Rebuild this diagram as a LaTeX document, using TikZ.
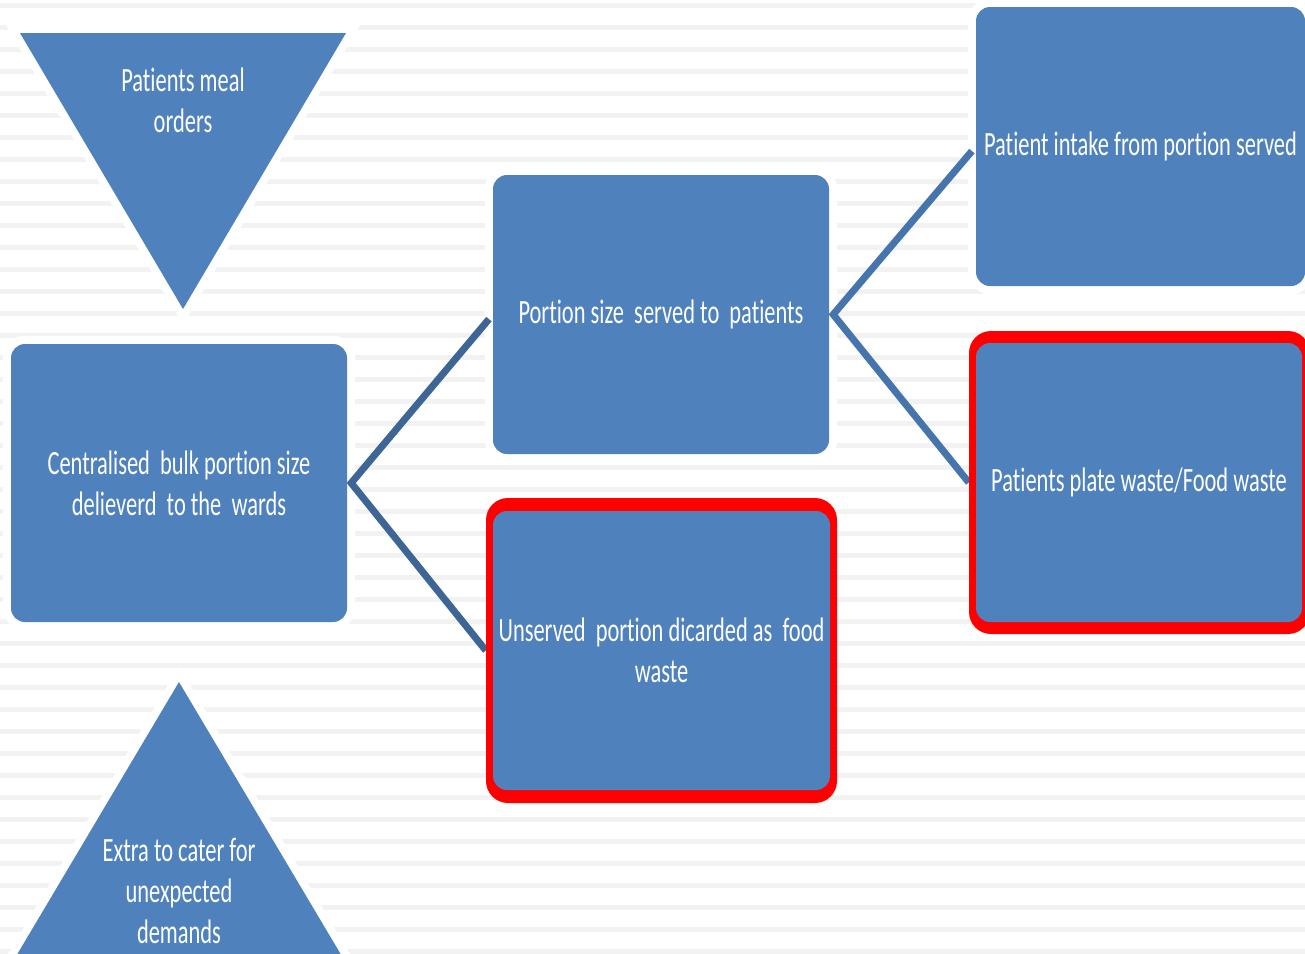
\documentclass[tikz,border=0pt]{standalone}
\usepackage{fontspec}
\setmainfont{Carlito}[FakeStretch=0.66, Ligatures=NoCommon]
\pgfdeclarelayer{bg}
\pgfdeclarelayer{halo}
\pgfdeclarelayer{conn}
\pgfsetlayers{bg,halo,conn,main}
\definecolor{fillblue}{RGB}{79,129,189}
\definecolor{stripecol}{RGB}{242,242,242}
\definecolor{connL}{RGB}{61,102,150}
\definecolor{connR}{RGB}{70,116,173}
\tikzset{
  txt/.style={text=white, align=center, font=\fontsize{34}{41}\selectfont},
  box/.style={rectangle, rounded corners=14pt, fill=fillblue, inner sep=0pt, txt},
  redframe/.style={rectangle, rounded corners=22pt, fill=red, inner sep=0pt},
  halo/.style={draw=white, line width=16pt, line join=miter},
  trilabel/.style={txt, inner sep=0pt},
  link/.style={line width=7pt, line join=miter, line cap=butt}
}
\begin{document}
\begin{tikzpicture}[x=1pt,y=-1pt]
\useasboundingbox (0,0) rectangle (1305,953);
\begin{pgfonlayer}{bg}
  \fill[white] (0,0) rectangle (1305,953);
  \foreach \k in {0,...,43} \fill[stripecol] (0,3+22*\k) rectangle (1305,8+22*\k);
\end{pgfonlayer}

% triangles
\fill[fillblue] (20,33) -- (346,33) -- (183,309) -- cycle;
\node[trilabel] (orders) at (183,100) {Patients meal\\orders};
\fill[fillblue] (179,682) -- (343,958) -- (15,958) -- cycle;
\node[trilabel] (extra) at (179,891) {Extra to cater for\\unexpected\\demands};

% boxes
\node[box, minimum width=336pt, minimum height=278pt] (lb) at (179,483)
  {Centralised\ \ bulk portion size\\delieverd\ \ to the\ \ wards};
\node[box, minimum width=336pt, minimum height=279pt] (mt) at (661,314.5)
  {Portion size\ \ served to\ \ patients};
\node[redframe, minimum width=351pt, minimum height=305pt] (mbf) at (661.5,650.5) {};
\node[box, minimum width=337pt, minimum height=279pt] (mb) at (661.5,650.5)
  {Unserved\ \ portion dicarded as\ \ food\\waste};
\node[box, minimum width=329pt, minimum height=279pt] (rt) at (1140.5,146.5)
  {Patient intake from portion served};
\node[redframe, minimum width=341pt, minimum height=303pt] (rbf) at (1139.5,482.5) {};
\node[box, minimum width=326pt, minimum height=279pt] (rb) at (1139,482.5)
  {Patients plate waste/Food waste};

\begin{pgfonlayer}{halo}
  \draw[halo] (20,33) -- (346,33) -- (183,309) -- cycle;
  \draw[halo] (179,682) -- (343,958) -- (15,958) -- cycle;
  \draw[halo, rounded corners=14pt] (lb.south west) rectangle (lb.north east);
  \draw[halo, rounded corners=14pt] (mt.south west) rectangle (mt.north east);
  \draw[halo, rounded corners=14pt] (rt.south west) rectangle (rt.north east);
\end{pgfonlayer}

\begin{pgfonlayer}{conn}
  \coordinate (lv) at ([xshift=4pt]lb.east);
  \coordinate (rv) at ([xshift=4pt]mt.east);
  \draw[link, connL, shorten <=6pt] (mt.west) -- (lv) -- (mbf.west);
  \draw[link, connR, shorten <=6pt] (rt.west) -- (rv) -- (rbf.west);
\end{pgfonlayer}
\end{tikzpicture}
\end{document}
